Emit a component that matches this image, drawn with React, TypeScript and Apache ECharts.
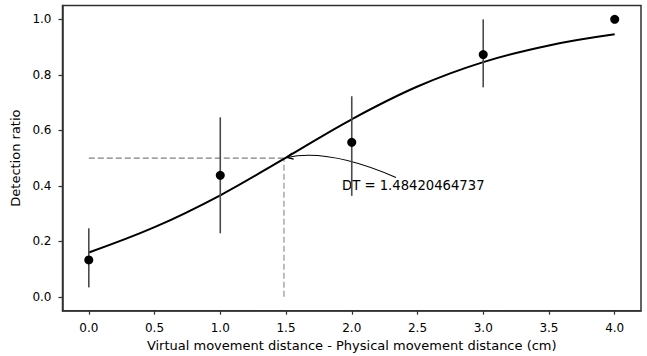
import React, { useEffect, useRef } from "react";
import * as echarts from "echarts";

const pointX = [0, 1, 2, 3, 4];
const pointY = [0.133, 0.438, 0.557, 0.873, 1.0];
const errLow = [0.034, 0.229, 0.364, 0.755, 1.0];
const errHigh = [0.247, 0.647, 0.723, 1.0, 1.0];

const curveX = [0, 0.5, 1, 1.5, 2, 2.5, 3, 3.5, 4];
const curveY = [0.16, 0.251, 0.366, 0.502, 0.64, 0.758, 0.846, 0.906, 0.946];

const xTicks = [0, 0.5, 1, 1.5, 2, 2.5, 3, 3.5, 4];
const yTicks = [0, 0.2, 0.4, 0.6, 0.8, 1.0];

const X_MIN = -0.2;
const X_MAX = 4.2;
const Y_MIN = -0.05;
const Y_MAX = 1.05;

const DT = 1.48420464737;
const DT_LEVEL = 0.5;
const DT_LABEL = "DT = 1.48420464737";
const textAnchor = [1.926, 0.402];
const arrowStart = [2.336, 0.43];
const arrowCtrl = [1.83, 0.535];

const FONT = "DejaVu Sans";

export default function App() {
  const ref = useRef<HTMLDivElement>(null);
  useEffect(() => {
    if (!ref.current) return;
    const chart = echarts.init(ref.current, undefined, { renderer: "svg" });
    const spine = { show: true, onZero: false, lineStyle: { color: "#303030", width: 1.5 } };
    const tick = { show: true, inside: false, length: 4, lineStyle: { color: "#303030", width: 1.2 } };
    chart.setOption({
      animation: false,
      backgroundColor: "#fff",
      grid: {
        left: 62.5,
        right: 6,
        top: 5.5,
        bottom: 45.3,
        outerBoundsMode: "none",
        show: true,
        borderColor: "#303030",
        borderWidth: 1.5,
      },
      xAxis: [
        {
          type: "value",
          min: X_MIN,
          max: X_MAX,
          position: "bottom",
          axisLine: spine,
          splitLine: { show: false },
          axisTick: { ...tick, customValues: xTicks },
          axisLabel: {
            customValues: xTicks,
            formatter: (v: number) => v.toFixed(1),
            color: "#000",
            fontFamily: FONT,
            fontSize: 12,
            margin: 11,
          },
          name: "Virtual movement distance - Physical movement distance (cm)",
          nameLocation: "middle",
          nameGap: 28,
          nameTextStyle: { color: "#000", fontFamily: FONT, fontSize: 13 },
        },
      ],
      yAxis: [
        {
          type: "value",
          min: Y_MIN,
          max: Y_MAX,
          position: "left",
          axisLine: spine,
          splitLine: { show: false },
          axisTick: { ...tick, customValues: yTicks },
          axisLabel: {
            customValues: yTicks,
            formatter: (v: number) => v.toFixed(1),
            color: "#000",
            fontFamily: FONT,
            fontSize: 12,
            margin: 11,
          },
          name: "Detection ratio",
          nameLocation: "middle",
          nameGap: 31,
          nameTextStyle: { color: "#000", fontFamily: FONT, fontSize: 13 },
        },
      ],
      series: [
        {
          type: "line",
          data: curveX.map((x, i) => [x, curveY[i]]),
          smooth: 0.4,
          showSymbol: false,
          lineStyle: { color: "#000", width: 2 },
          z: 3,
        },
        {
          type: "line",
          data: [
            [0, DT_LEVEL],
            [DT, DT_LEVEL],
          ],
          showSymbol: false,
          lineStyle: { color: "#808080", width: 1.2, type: [6, 3] },
          z: 2,
        },
        {
          type: "line",
          data: [
            [DT, 0],
            [DT, DT_LEVEL],
          ],
          showSymbol: false,
          lineStyle: { color: "#a8a8a8", width: 1.5, type: [6, 3] },
          z: 2,
        },
        {
          type: "custom",
          data: pointX.map((x, i) => [x, errLow[i], errHigh[i]]),
          renderItem: (params: any, api: any) => {
            const x = api.value(0);
            const lo = api.coord([x, api.value(1)]);
            const hi = api.coord([x, api.value(2)]);
            return {
              type: "line",
              shape: { x1: lo[0], y1: lo[1], x2: hi[0], y2: hi[1] },
              style: { stroke: "#4a4a4a", lineWidth: 1.6 },
            };
          },
          z: 4,
        },
        {
          type: "scatter",
          data: pointX.map((x, i) => [x, pointY[i]]),
          symbol: "circle",
          symbolSize: 9,
          itemStyle: { color: "#000", opacity: 1 },
          z: 5,
        },
      ],
    });

    const px = (p: number[]) => chart.convertToPixel({ gridIndex: 0 }, p) as number[];
    const pt = px([DT, DT_LEVEL]);
    const s = px(arrowStart);
    const c = px(arrowCtrl);
    const dx = c[0] - pt[0];
    const dy = c[1] - pt[1];
    const len = Math.hypot(dx, dy);
    const ux = dx / len;
    const uy = dy / len;
    const tip = [pt[0] + ux * 3, pt[1] + uy * 3];
    const wl = 7;
    const rot = (a: number) => [
      tip[0] + wl * (ux * Math.cos(a) - uy * Math.sin(a)),
      tip[1] + wl * (ux * Math.sin(a) + uy * Math.cos(a)),
    ];
    const w1 = rot(0.45);
    const w2 = rot(-0.45);
    const t = px(textAnchor);
    chart.setOption({
      graphic: [
        {
          type: "bezierCurve",
          shape: { x1: s[0], y1: s[1], x2: tip[0], y2: tip[1], cpx1: c[0], cpy1: c[1] },
          style: { stroke: "#000", lineWidth: 1.1, fill: null },
        },
        {
          type: "polyline",
          shape: { points: [w1, tip, w2] },
          style: { stroke: "#000", lineWidth: 1.5, fill: null },
        },
        {
          type: "text",
          x: t[0],
          y: t[1],
          style: {
            text: DT_LABEL,
            fontFamily: FONT,
            fontSize: 13.2,
            fill: "#000",
            textAlign: "left",
            textVerticalAlign: "middle",
          },
        },
      ],
    });
    return () => chart.dispose();
  }, []);
  return (
    <div
      ref={ref}
      style={{ position: "fixed", left: 0, top: 0, width: 647, height: 356 }}
    />
  );
}
